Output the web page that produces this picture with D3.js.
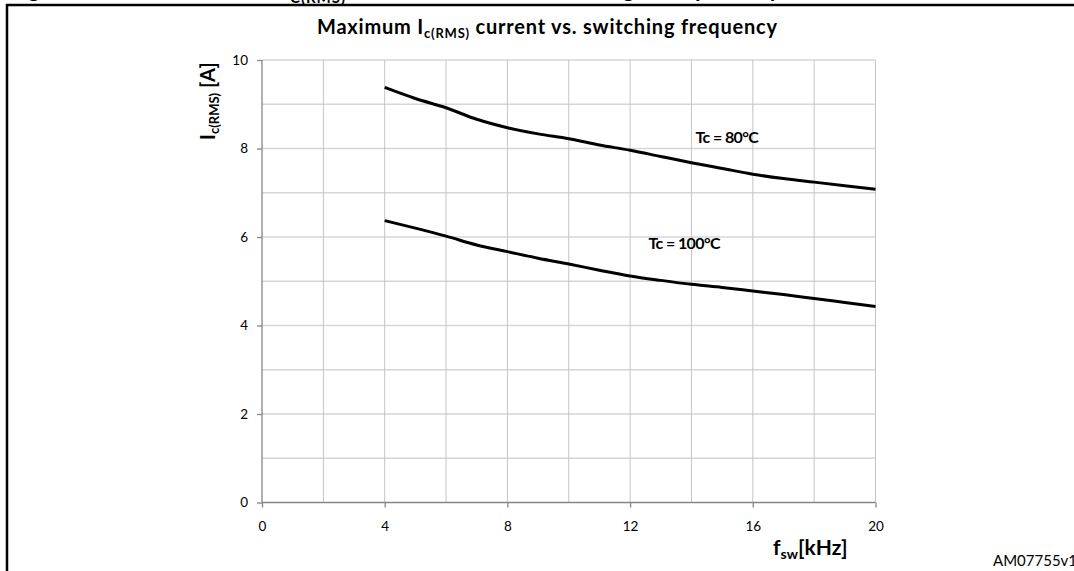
<!DOCTYPE html>
<html lang="en">
  <head>
    <meta charset="utf-8">
    <title>Maximum Ic(RMS) current vs. switching frequency</title>
    <script type="text/javascript" src="https://d3js.org/d3.v7.min.js"></script>
    <style type="text/css">
      body {
        margin: 0;
        background: #ffffff;
      }
      text {
        font-family: Lato, "Liberation Sans", sans-serif;
      }
    </style>
  </head>
  <body>
    <div id="placeHere"></div>
    <script type="text/javascript">
      // chart data
      var freqs = [4, 5, 6, 7, 8, 9, 10, 11, 12, 13, 14, 15, 16, 17, 18, 19, 20];
      var tc80 = [9.38, 9.13, 8.92, 8.66, 8.47, 8.33, 8.22, 8.08, 7.96, 7.82, 7.68, 7.55, 7.42, 7.32, 7.24, 7.16, 7.08];
      var tc100 = [6.37, 6.20, 6.02, 5.82, 5.67, 5.52, 5.39, 5.25, 5.12, 5.02, 4.93, 4.86, 4.78, 4.70, 4.61, 4.52, 4.43];
      var xTicks = [0, 4, 8, 12, 16, 20];
      var yTicks = [0, 2, 4, 6, 8, 10];
      var seriesNames = ["Tc = 80°C", "Tc = 100°C"];
      var labelAt = [[14.13, 8.13], [12.6, 5.73]];

      var w = 1074;
      var h = 571;

      var svg = d3.select("#placeHere")
                  .append("svg")
                  .attr("width", w)
                  .attr("height", h);

      // frame around the figure
      svg.append("path")
         .attr("d", "M7,571 V5 H1074")
         .attr("fill", "none")
         .attr("stroke", "#000")
         .attr("stroke-width", 2.5);

      // caption line above the frame, mostly cropped away
      var capFont = "'Liberation Sans', Arial, sans-serif";
      svg.append("text")
         .attr("x", 10).attr("y", -3)
         .attr("font-family", capFont)
         .attr("font-weight", "bold")
         .attr("font-size", "22px")
         .text("Figure 10.");
      svg.append("text")
         .attr("x", 288).attr("y", 0)
         .attr("text-anchor", "end")
         .attr("font-family", capFont)
         .attr("font-weight", "bold")
         .attr("font-size", "22px")
         .text("Maximum I");
      svg.append("text")
         .attr("x", 290).attr("y", 3)
         .attr("font-family", capFont)
         .attr("font-weight", "bold")
         .attr("font-size", "15px")
         .attr("textLength", 55)
         .text("C(RMS)");
      svg.append("text")
         .attr("x", 350).attr("y", -3)
         .attr("font-family", capFont)
         .attr("font-weight", "bold")
         .attr("font-size", "22px")
         .attr("textLength", 430)
         .text("current vs. switching frequency");

      // scales
      var x = d3.scaleLinear().domain([0, 20]).range([262, 875.5]);
      var y = d3.scaleLinear().domain([0, 10]).range([502.5, 60]);

      // horizontal grid (every 1 A)
      svg.append("g")
         .selectAll("line")
         .data(d3.range(1, 11))
         .enter()
         .append("line")
         .attr("x1", x(0))
         .attr("x2", x(20))
         .attr("y1", function(d) { return y(d); })
         .attr("y2", function(d) { return y(d); })
         .attr("stroke", "#d6d6d6")
         .attr("stroke-width", 1.5);

      // vertical grid (every 2 kHz)
      svg.append("g")
         .selectAll("line")
         .data(d3.range(2, 21, 2))
         .enter()
         .append("line")
         .attr("x1", function(d) { return x(d); })
         .attr("x2", function(d) { return x(d); })
         .attr("y1", y(0))
         .attr("y2", y(10))
         .attr("stroke", "#c4c4c4")
         .attr("stroke-width", 1);

      // axes
      var xAxis = d3.axisBottom(x).tickValues(xTicks).tickSize(5).tickPadding(14);
      var yAxis = d3.axisLeft(y).tickValues(yTicks).tickSize(5).tickPadding(9);

      var gx = svg.append("g")
                  .attr("transform", "translate(0," + y(0) + ")")
                  .call(xAxis);
      var gy = svg.append("g")
                  .attr("transform", "translate(" + x(0) + ",0)")
                  .call(yAxis);

      [gx, gy].forEach(function(g) {
        g.select(".domain").attr("stroke", "#868686").attr("stroke-width", 1.3);
        g.selectAll(".tick line").attr("stroke", "#868686").attr("stroke-width", 1.3);
        g.selectAll(".tick text")
         .attr("font-family", "Lato, sans-serif")
         .attr("font-size", "13.5px")
         .attr("fill", "#000");
      });
      gx.select(".domain").attr("d", "M" + x(0) + ",0H" + x(20));
      gy.select(".domain").attr("d", "M0," + y(0) + "V" + y(10));

      // curves
      var line = d3.line()
                   .x(function(d, i) { return x(freqs[i]); })
                   .y(function(d) { return y(d); })
                   .curve(d3.curveMonotoneX);

      svg.selectAll(".curve")
         .data([tc80, tc100])
         .enter()
         .append("path")
         .attr("class", "curve")
         .attr("d", line)
         .attr("fill", "none")
         .attr("stroke", "#000")
         .attr("stroke-width", 3);

      // curve labels
      svg.selectAll(".lbl")
         .data(seriesNames)
         .enter()
         .append("text")
         .attr("class", "lbl")
         .attr("x", function(d, i) { return x(labelAt[i][0]); })
         .attr("y", function(d, i) { return y(labelAt[i][1]); })
         .attr("font-weight", "bold")
         .attr("font-size", "16px")
         .attr("letter-spacing", "-0.6px")
         .attr("fill", "#000")
         .text(function(d) { return d; });

      // chart title
      var title = svg.append("text")
                     .attr("x", 547)
                     .attr("y", 34)
                     .attr("text-anchor", "middle")
                     .attr("font-weight", "bold")
                     .attr("font-size", "20px")
                     .attr("textLength", 460)
                     .attr("fill", "#000");
      title.append("tspan").text("Maximum I");
      title.append("tspan").attr("font-size", "13px").attr("dy", 4).text("c(RMS)");
      title.append("tspan").attr("dy", -4).text(" current vs. switching frequency");

      // y axis title
      var ytitle = svg.append("text")
                      .attr("transform", "translate(215,140) rotate(-90)")
                      .attr("font-weight", "bold")
                      .attr("font-size", "20px")
                      .attr("fill", "#000");
      ytitle.append("tspan").text("I");
      ytitle.append("tspan").attr("font-size", "13px").attr("dy", 4).text("c(RMS)");
      ytitle.append("tspan").attr("dy", -4).text(" [A]");

      // x axis title
      var xtitle = svg.append("text")
                      .attr("x", 773)
                      .attr("y", 555)
                      .attr("font-weight", "bold")
                      .attr("font-size", "21px")
                      .attr("fill", "#000");
      xtitle.append("tspan").text("f");
      xtitle.append("tspan").attr("font-size", "14px").attr("dy", 4).text("sw");
      xtitle.append("tspan").attr("dy", -4).text("[kHz]");

      // document code
      svg.append("text")
         .attr("x", 993)
         .attr("y", 566)
         .attr("font-family", capFont)
         .attr("font-size", "15px")
         .attr("fill", "#000")
         .text("AM07755v1");
    </script>
  </body>
</html>
